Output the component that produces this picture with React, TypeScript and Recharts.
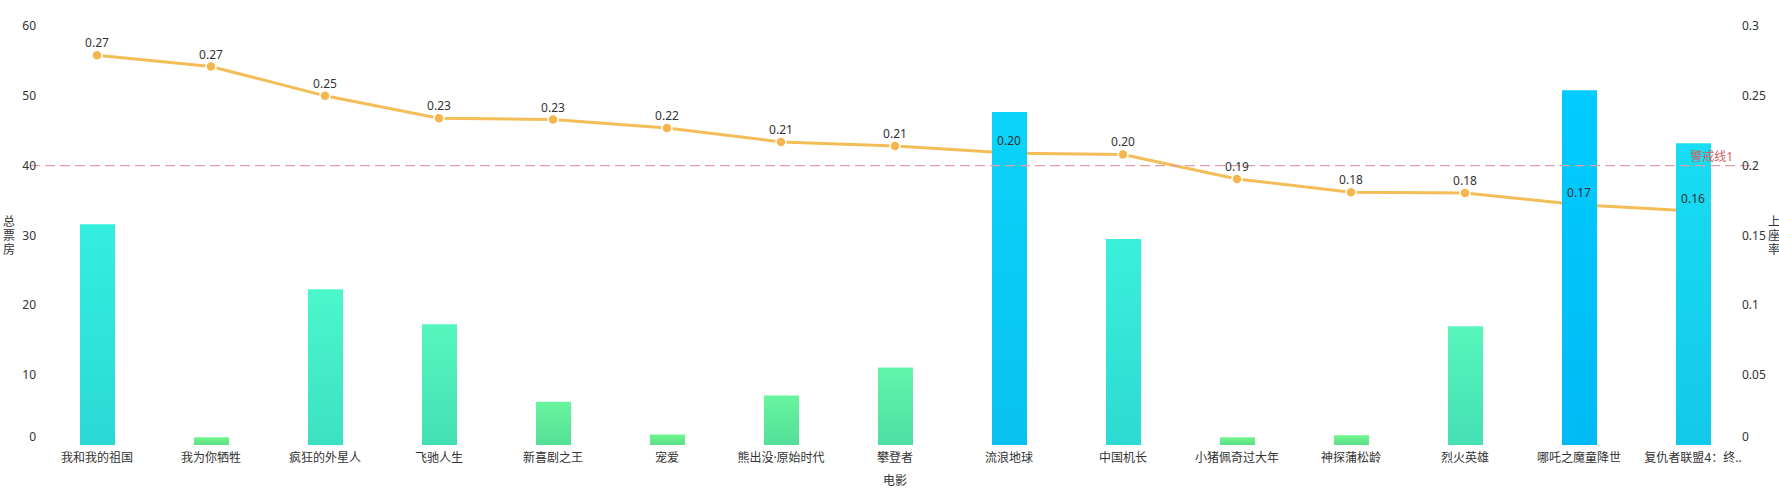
import {
  Bar,
  Cell,
  ComposedChart,
  LabelList,
  Line,
  ReferenceLine,
  XAxis,
  YAxis,
} from 'recharts';

const movies = [
  '我和我的祖国',
  '我为你牺牲',
  '疯狂的外星人',
  '飞驰人生',
  '新喜剧之王',
  '宠爱',
  '熊出没·原始时代',
  '攀登者',
  '流浪地球',
  '中国机长',
  '小猪佩奇过大年',
  '神探蒲松龄',
  '烈火英雄',
  '哪吒之魔童降世',
  '复仇者联盟4：终局之战',
];
// 总票房 (亿)
const boxOffice = [31.6, 1.1, 22.3, 17.3, 6.2, 1.5, 7.1, 11.1, 47.7, 29.5, 1.1, 1.4, 17.0, 50.8, 43.2];
// 上座率
const occupancy = [0.279, 0.271, 0.25, 0.234, 0.233, 0.227, 0.217, 0.214, 0.209, 0.208, 0.1905, 0.181, 0.1805, 0.172, 0.1675];
const leftTicks = [0, 10, 20, 30, 40, 50, 60];
const rightTicks = [0, 0.05, 0.1, 0.15, 0.2, 0.25, 0.3];
const warningValue = 0.2;
const warningLabel = '警戒线1';

const FONT = '"Noto Sans", "Noto Sans CJK SC", sans-serif';
const TEXT = '#333';
const W = 1779;
const H = 493;

// colour of a bar follows its value: green for small, cyan-blue for large
const COLOR_STOPS: [number, string][] = [
  [0, '#74F58A'],
  [10, '#63F5A8'],
  [22, '#4CF7CA'],
  [32, '#34EEE0'],
  [45, '#14DAF6'],
  [51, '#00CCFF'],
];

function hexToRgb(hex: string) {
  const n = parseInt(hex.slice(1), 16);
  return [(n >> 16) & 255, (n >> 8) & 255, n & 255];
}

function rgbToHex(rgb: number[]) {
  return '#' + rgb.map(c => Math.round(Math.max(0, Math.min(255, c))).toString(16).padStart(2, '0')).join('');
}

function colorFor(value: number): string {
  for (let i = 1; i < COLOR_STOPS.length; i++) {
    const [v1, c1] = COLOR_STOPS[i];
    const [v0, c0] = COLOR_STOPS[i - 1];
    if (value <= v1) {
      const t = (value - v0) / (v1 - v0);
      const a = hexToRgb(c0);
      const b = hexToRgb(c1);
      return rgbToHex(a.map((c, k) => c + (b[k] - c) * t));
    }
  }
  return COLOR_STOPS[COLOR_STOPS.length - 1][1];
}

// bottom of each bar is a little deeper than its top
function deepen(hex: string) {
  const [r, g, b] = hexToRgb(hex);
  return rgbToHex([r * 0.8, g * 0.91, b * 0.96]);
}

function floor2(v: number | string) {
  const n = Number(v);
  return (Math.floor(n * 100 + 1e-6) / 100).toFixed(2);
}

function shortName(name: string) {
  return name.length > 8 ? name.slice(0, 8) + '..' : name;
}

const data = movies.map((name, i) => ({
  name,
  boxOffice: boxOffice[i],
  rate: occupancy[i],
}));

function XTick({ x, y, payload }: any) {
  return (
    <text x={x} y={y + 17} textAnchor="middle" fontSize={12} fontFamily={FONT} fill={TEXT}>
      {shortName(payload.value)}
    </text>
  );
}

function LeftTick({ x, y, payload }: any) {
  const shift = payload.value === 0 ? -8 : 0;
  return (
    <text x={x} y={y + shift + 4} textAnchor="end" fontSize={12} fontFamily={FONT} fill={TEXT}>
      {payload.value}
    </text>
  );
}

function RightTick({ x, y, payload }: any) {
  const shift = payload.value === 0 ? -8 : 0;
  return (
    <text x={x - 8} y={y + shift + 4} textAnchor="start" fontSize={12} fontFamily={FONT} fill={TEXT}>
      {payload.value}
    </text>
  );
}

function stackedTitle(text: string, dx: number) {
  return (props: any) => {
    const vb = props.viewBox || {};
    const cx = (vb.x ?? 0) + dx;
    const cy = (vb.y ?? 26) + (vb.height ?? 419) / 2;
    const chars = text.split('');
    const step = 14;
    const start = cy - ((chars.length - 1) * step) / 2 + 4.5;
    return (
      <text textAnchor="middle" fontSize={12} fontFamily={FONT} fill={TEXT}>
        {chars.map((c, i) => (
          <tspan key={i} x={cx} y={start + i * step}>
            {c}
          </tspan>
        ))}
      </text>
    );
  };
}

function WarningShape(props: any) {
  const { x1, y1, x2, y2 } = props;
  return (
    <line
      x1={x1}
      y1={y1}
      x2={x2 - 12}
      y2={y2}
      stroke="#DDA0A4"
      strokeWidth={1.3}
      strokeDasharray="10 5"
      fill="none"
    />
  );
}

function WarningLabel(props: any) {
  const vb = props.viewBox || {};
  return (
    <text
      x={vb.x + vb.width - 17}
      y={vb.y - 5}
      textAnchor="end"
      fontSize={12}
      fontFamily={FONT}
      fill="#D0605E"
    >
      {warningLabel}
    </text>
  );
}

export default function App() {
  return (
    <div style={{ position: 'absolute', left: 0, top: 0, width: W, height: H, background: '#fff' }}>
      <ComposedChart width={W} height={H} data={data} margin={{ top: 26, right: 0, bottom: 0, left: 0 }}>
        <defs>
          {data.map((d, i) => {
            const c = colorFor(d.boxOffice);
            return (
              <linearGradient key={i} id={`bar-grad-${i}`} x1="0" y1="0" x2="0" y2="1">
                <stop offset="0%" stopColor={c} />
                <stop offset="100%" stopColor={deepen(c)} />
              </linearGradient>
            );
          })}
        </defs>
        <XAxis
          dataKey="name"
          interval={0}
          tickLine={false}
          axisLine={false}
          tickSize={0}
          tickMargin={0}
          height={48}
          tick={<XTick />}
          label={{ value: '电影', position: 'insideBottom', offset: 8, fontSize: 12, fontFamily: FONT, fill: TEXT }}
        />
        <YAxis
          yAxisId="left"
          domain={[0, 60]}
          ticks={leftTicks}
          width={40}
          tickLine={false}
          axisLine={false}
          tickSize={0}
          tickMargin={4}
          tick={<LeftTick />}
          label={stackedTitle('总票房', 9)}
        />
        <YAxis
          yAxisId="right"
          orientation="right"
          domain={[0, 0.3]}
          ticks={rightTicks}
          width={29}
          tickLine={false}
          axisLine={false}
          tickSize={0}
          tickMargin={0}
          tick={<RightTick />}
          label={stackedTitle('上座率', 24)}
        />
        <Line
          yAxisId="right"
          dataKey="rate"
          type="linear"
          stroke="#F3BD57"
          strokeWidth={3}
          dot={{ r: 5, fill: '#F5B64E', stroke: '#fff', strokeWidth: 1.5 }}
          activeDot={false}
          isAnimationActive={false}
          zIndex={250}
        />
        <Bar yAxisId="left" dataKey="boxOffice" barSize={35} isAnimationActive={false} zIndex={1500}>
          {data.map((d, i) => (
            <Cell key={d.name} fill={`url(#bar-grad-${i})`} />
          ))}
        </Bar>
        <ReferenceLine
          yAxisId="right"
          y={warningValue}
          shape={WarningShape}
          label={WarningLabel}
          zIndex={1600}
        />
        <Line
          yAxisId="right"
          dataKey="rate"
          stroke="none"
          dot={false}
          activeDot={false}
          legendType="none"
          isAnimationActive={false}
          zIndex={1700}
        >
          <LabelList
            dataKey="rate"
            position="top"
            offset={8}
            formatter={floor2}
            fill={TEXT}
            fontSize={12}
            fontFamily={FONT}
            zIndex={2000}
          />
        </Line>
      </ComposedChart>
    </div>
  );
}
